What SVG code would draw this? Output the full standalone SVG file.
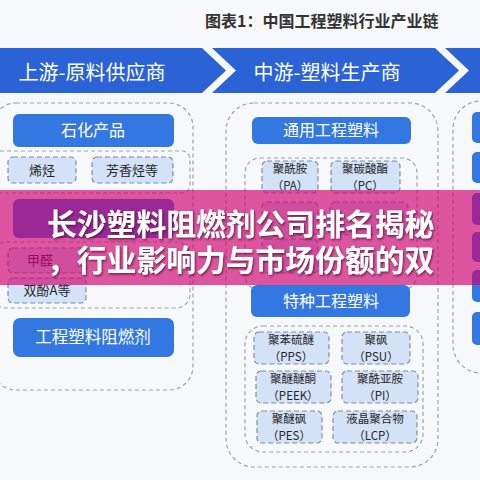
<svg xmlns="http://www.w3.org/2000/svg" width="480" height="480" viewBox="0 0 480 480">
  <defs>
    <style>
      .cjk { font-family: "Noto Sans CJK SC", "Noto Sans", sans-serif; }
      .title { font-size: 16px; font-weight: bold; fill: #333333; }
      .stage { font-size: 20px; fill: #ffffff; }
      .arrow { fill: #2b62d6; }
      .hdr { fill: #3377e0; }
      .hdrtxt { font-size: 16px; fill: #ffffff; text-anchor: middle; }
      .outer { fill: none; stroke: #9aa3ad; stroke-width: 1.2; stroke-dasharray: 4 3; }
      .node { fill: #d3e2f6; stroke: #7d8ea3; stroke-width: 1.2; stroke-dasharray: 5 3; }
      .ntxt { font-size: 13px; fill: #262626; text-anchor: middle; }
      .n2 { font-size: 11.5px; fill: #262626; text-anchor: middle; }
      .banner { font-size: 29.8px; font-weight: bold; fill: #ffffff; }
    </style>
    <filter id="shadow" x="-5%" y="-20%" width="110%" height="140%">
      <feDropShadow dx="1" dy="1.5" stdDeviation="0.8" flood-color="#3a0a28" flood-opacity="0.75"/>
    </filter>
  </defs>

  <rect x="0" y="0" width="480" height="480" fill="#f7f8fa"/>

  <text class="cjk title" x="205" y="27">图表1：中国工程塑料行业产业链</text>

  <g id="stages">
    <polygon class="arrow" points="0,48 202,48 226,70.5 202,93 0,93"/>
    <polygon class="arrow" points="212,48 435,48 459,70.5 435,93 212,93 236,70.5"/>
    <polygon class="arrow" points="445,48 480,48 480,93 445,93 469,70.5"/>
    <text class="cjk stage" x="92" y="80" text-anchor="middle">上游-原料供应商</text>
    <text class="cjk stage" x="327" y="80" text-anchor="middle">中游-塑料生产商</text>
  </g>

  <g id="connectors">
    <rect class="outer" x="-8" y="103" width="201" height="287" rx="24"/>
    <rect class="outer" x="-8" y="151" width="198" height="42" rx="8"/>
    <rect class="outer" x="-8" y="242" width="198" height="66" rx="14"/>
    <rect class="outer" x="226" y="103" width="212" height="364" rx="28"/>
    <rect class="outer" x="245" y="158" width="172" height="132" rx="15"/>
    <rect class="outer" x="245" y="326" width="178" height="126" rx="18"/>
    <rect class="outer" x="453" y="101" width="60" height="272" rx="28"/>
  </g>

  <g id="upstream">
    <g id="n-petro">
      <rect class="hdr" x="13" y="114" width="161" height="33" rx="6"/>
      <text class="cjk hdrtxt" x="93" y="136">石化产品</text>
    </g>
    <g id="n-olefin">
      <rect class="node" x="8" y="157" width="68" height="26" rx="5"/>
      <text class="cjk ntxt" x="42" y="175">烯烃</text>
    </g>
    <g id="n-aromatic">
      <rect class="node" x="92" y="157" width="81" height="26" rx="5"/>
      <text class="cjk ntxt" x="132" y="175">芳香烃等</text>
    </g>
    <g id="n-hidden-hdr">
      <rect class="hdr" x="13" y="199" width="161" height="39" rx="6"/>
    </g>
    <g id="n-formaldehyde">
      <rect class="node" x="8" y="248" width="78" height="25" rx="5"/>
      <text class="cjk ntxt" x="40" y="265">甲醛</text>
    </g>
    <g id="n-bpa">
      <rect class="node" x="8" y="278" width="78" height="25" rx="5"/>
      <text class="cjk ntxt" x="47" y="295">双酚A等</text>
    </g>
    <g id="n-fr">
      <rect class="hdr" x="13" y="318" width="161" height="39" rx="7"/>
      <text class="cjk hdrtxt" x="93" y="343" style="font-size:16.5px">工程塑料阻燃剂</text>
    </g>
  </g>

  <g id="midstream">
    <g id="n-general">
      <rect class="hdr" x="252" y="117" width="159" height="27" rx="6"/>
      <text class="cjk hdrtxt" x="331" y="136">通用工程塑料</text>
    </g>
    <g id="n-pa">
      <rect class="node" x="262" y="161" width="56" height="32" rx="5"/>
      <text class="cjk n2" x="290" y="172.5">聚酰胺</text>
      <text class="cjk n2" x="290" y="189.5">（PA）</text>
    </g>
    <g id="n-pc">
      <rect class="node" x="331" y="161" width="69" height="32" rx="5"/>
      <text class="cjk n2" x="365" y="172.5">聚碳酸酯</text>
      <text class="cjk n2" x="365" y="189.5">（PC）</text>
    </g>
    <g id="n-pom">
      <rect class="node" x="262" y="202" width="56" height="33" rx="5"/>
    </g>
    <g id="n-pbt">
      <rect class="node" x="330" y="202" width="78" height="33" rx="5"/>
    </g>
    <g id="n-ppo">
      <rect class="node" x="262" y="239" width="56" height="34" rx="5"/>
    </g>
    <g id="n-special">
      <rect class="hdr" x="251" y="285" width="159" height="32" rx="6"/>
      <text class="cjk hdrtxt" x="331" y="307">特种工程塑料</text>
    </g>
    <g id="n-pps">
      <rect class="node" x="254" y="332" width="75" height="32" rx="5"/>
      <text class="cjk n2" x="291" y="344">聚苯硫醚</text>
      <text class="cjk n2" x="291" y="361">（PPS）</text>
    </g>
    <g id="n-psu">
      <rect class="node" x="342" y="332" width="68" height="32" rx="5"/>
      <text class="cjk n2" x="376" y="344">聚砜</text>
      <text class="cjk n2" x="376" y="361">（PSU）</text>
    </g>
    <g id="n-peek">
      <rect class="node" x="256" y="371" width="75" height="32" rx="5"/>
      <text class="cjk n2" x="293" y="383">聚醚醚酮</text>
      <text class="cjk n2" x="293" y="400">（PEEK）</text>
    </g>
    <g id="n-pi">
      <rect class="node" x="342" y="371" width="76" height="32" rx="5"/>
      <text class="cjk n2" x="380" y="383">聚酰亚胺</text>
      <text class="cjk n2" x="380" y="400">（PI）</text>
    </g>
    <g id="n-pes">
      <rect class="node" x="257" y="411" width="65" height="32" rx="5"/>
      <text class="cjk n2" x="289" y="423">聚醚砜</text>
      <text class="cjk n2" x="289" y="440">（PES）</text>
    </g>
    <g id="n-lcp">
      <rect class="node" x="333" y="411" width="84" height="32" rx="5"/>
      <text class="cjk n2" x="375" y="423">液晶聚合物</text>
      <text class="cjk n2" x="375" y="440">（LCP）</text>
    </g>
  </g>

  <g id="downstream">
    <rect class="hdr" x="472" y="112" width="16" height="31" rx="5"/>
    <rect class="hdr" x="472" y="152" width="16" height="31" rx="5"/>
    <rect class="hdr" x="472" y="193" width="16" height="32" rx="5"/>
    <rect class="hdr" x="472" y="232" width="16" height="30" rx="5"/>
    <rect class="hdr" x="472" y="270" width="16" height="32" rx="5"/>
    <rect class="hdr" x="472" y="312" width="16" height="33" rx="5"/>
  </g>

  <g id="overlay">
    <rect x="0" y="190" width="480" height="95" fill="rgb(208,0,112)" fill-opacity="0.66"/>
    <g filter="url(#shadow)">
      <text class="cjk banner" x="47" y="235">长沙塑料阻燃剂公司排名揭秘</text>
      <text class="cjk banner" x="47" y="271">，行业影响力与市场份额的双</text>
    </g>
  </g>
</svg>
